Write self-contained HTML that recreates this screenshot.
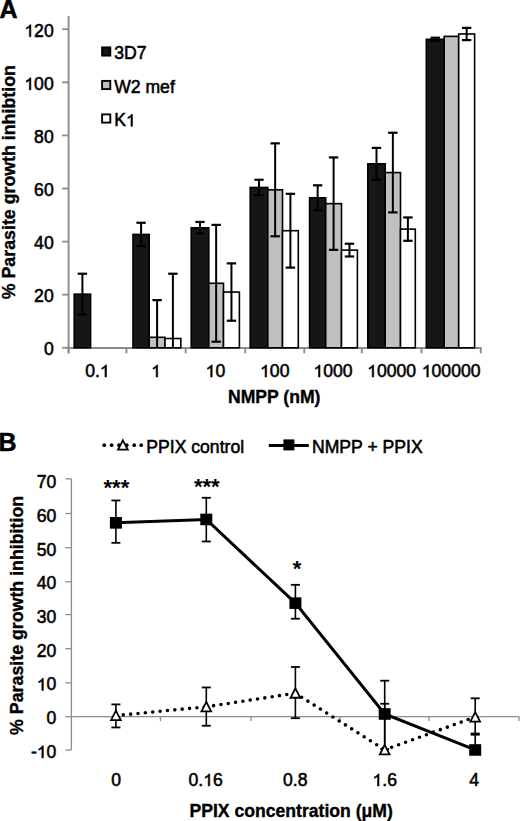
<!DOCTYPE html>
<html><head><meta charset="utf-8"><style>
html,body{margin:0;padding:0;background:#fff;}
svg{display:block;}
.t{font-family:"Liberation Sans", sans-serif;font-size:17.6px;fill:#000;stroke:#000;stroke-width:0.55px;}
.tb{font-family:"Liberation Sans", sans-serif;font-size:17.6px;font-weight:bold;fill:#000;stroke:#000;stroke-width:0.35px;}
.st{font-family:"Liberation Sans", sans-serif;font-size:22px;font-weight:bold;fill:#000;}
.tr{font-family:"Liberation Sans", sans-serif;font-size:17.8px;font-weight:bold;fill:#000;stroke:#000;stroke-width:0.35px;}
.pl{font-family:"Liberation Sans", sans-serif;font-size:25px;font-weight:bold;fill:#000;stroke:#000;stroke-width:0.5px;}
</style></head><body>
<svg width="520" height="821" viewBox="0 0 520 821">
<line x1="68.6" y1="16" x2="68.6" y2="353.3" stroke="#8c8c8c" stroke-width="1.9"/>
<line x1="67.64999999999999" y1="348.0" x2="481.75" y2="348.0" stroke="#8c8c8c" stroke-width="1.9"/>
<line x1="62.2" y1="347.80" x2="68.6" y2="347.80" stroke="#8c8c8c" stroke-width="1.8"/>
<text x="53.70" y="355.40" text-anchor="end" class="t">0</text>
<line x1="62.2" y1="294.70" x2="68.6" y2="294.70" stroke="#8c8c8c" stroke-width="1.8"/>
<text x="53.70" y="302.30" text-anchor="end" class="t">20</text>
<line x1="62.2" y1="241.60" x2="68.6" y2="241.60" stroke="#8c8c8c" stroke-width="1.8"/>
<text x="53.70" y="249.20" text-anchor="end" class="t">40</text>
<line x1="62.2" y1="188.50" x2="68.6" y2="188.50" stroke="#8c8c8c" stroke-width="1.8"/>
<text x="53.70" y="196.10" text-anchor="end" class="t">60</text>
<line x1="62.2" y1="135.40" x2="68.6" y2="135.40" stroke="#8c8c8c" stroke-width="1.8"/>
<text x="53.70" y="143.00" text-anchor="end" class="t">80</text>
<line x1="62.2" y1="82.30" x2="68.6" y2="82.30" stroke="#8c8c8c" stroke-width="1.8"/>
<text x="24.34" y="89.90" class="t">&#8199;00</text><path d="M30.89,89.90 L29.35,89.90 L29.35,80.42 Q28.79,80.94 27.90,81.44 Q27.02,81.94 26.25,82.21 L26.25,80.77 Q27.55,80.19 28.52,79.36 Q29.48,78.54 29.90,77.79 L30.89,77.79 Z" fill="#000" stroke="#000" stroke-width="0.55"/>
<line x1="62.2" y1="29.20" x2="68.6" y2="29.20" stroke="#8c8c8c" stroke-width="1.8"/>
<text x="24.34" y="36.80" class="t">&#8199;20</text><path d="M30.89,36.80 L29.35,36.80 L29.35,27.32 Q28.79,27.84 27.90,28.34 Q27.02,28.84 26.25,29.11 L26.25,27.67 Q27.55,27.09 28.52,26.26 Q29.48,25.44 29.90,24.69 L30.89,24.69 Z" fill="#000" stroke="#000" stroke-width="0.55"/>
<line x1="68.60" y1="348.0" x2="68.60" y2="353.3" stroke="#8c8c8c" stroke-width="1.9"/>
<line x1="126.40" y1="348.0" x2="126.40" y2="353.3" stroke="#8c8c8c" stroke-width="1.9"/>
<line x1="185.65" y1="348.0" x2="185.65" y2="353.3" stroke="#8c8c8c" stroke-width="1.9"/>
<line x1="245.20" y1="348.0" x2="245.20" y2="353.3" stroke="#8c8c8c" stroke-width="1.9"/>
<line x1="304.30" y1="348.0" x2="304.30" y2="353.3" stroke="#8c8c8c" stroke-width="1.9"/>
<line x1="361.80" y1="348.0" x2="361.80" y2="353.3" stroke="#8c8c8c" stroke-width="1.9"/>
<line x1="421.50" y1="348.0" x2="421.50" y2="353.3" stroke="#8c8c8c" stroke-width="1.9"/>
<line x1="480.80" y1="348.0" x2="480.80" y2="353.3" stroke="#8c8c8c" stroke-width="1.9"/>
<text x="85.27" y="377.00" class="t">0.&#8199;</text><path d="M106.50,377.00 L104.96,377.00 L104.96,367.52 Q104.40,368.04 103.51,368.54 Q102.63,369.04 101.86,369.31 L101.86,367.87 Q103.16,367.29 104.13,366.46 Q105.09,365.64 105.51,364.89 L106.50,364.89 Z" fill="#000" stroke="#000" stroke-width="0.55"/>
<text x="151.13" y="377.00" class="t">&#8199;</text><path d="M157.69,377.00 L156.14,377.00 L156.14,367.52 Q155.58,368.04 154.70,368.54 Q153.81,369.04 153.05,369.31 L153.05,367.87 Q154.34,367.29 155.31,366.46 Q156.28,365.64 156.70,364.89 L157.69,364.89 Z" fill="#000" stroke="#000" stroke-width="0.55"/>
<text x="205.64" y="377.00" class="t">&#8199;0</text><path d="M212.19,377.00 L210.65,377.00 L210.65,367.52 Q210.09,368.04 209.20,368.54 Q208.32,369.04 207.55,369.31 L207.55,367.87 Q208.85,367.29 209.82,366.46 Q210.78,365.64 211.21,364.89 L212.19,364.89 Z" fill="#000" stroke="#000" stroke-width="0.55"/>
<text x="260.07" y="377.00" class="t">&#8199;00</text><path d="M266.62,377.00 L265.08,377.00 L265.08,367.52 Q264.52,368.04 263.63,368.54 Q262.75,369.04 261.98,369.31 L261.98,367.87 Q263.28,367.29 264.25,366.46 Q265.22,365.64 265.64,364.89 L266.62,364.89 Z" fill="#000" stroke="#000" stroke-width="0.55"/>
<text x="313.47" y="377.00" class="t">&#8199;000</text><path d="M320.03,377.00 L318.48,377.00 L318.48,367.52 Q317.93,368.04 317.04,368.54 Q316.15,369.04 315.39,369.31 L315.39,367.87 Q316.69,367.29 317.65,366.46 Q318.62,365.64 319.04,364.89 L320.03,364.89 Z" fill="#000" stroke="#000" stroke-width="0.55"/>
<text x="367.18" y="377.00" class="t">&#8199;0000</text><path d="M373.74,377.00 L372.19,377.00 L372.19,367.52 Q371.63,368.04 370.75,368.54 Q369.86,369.04 369.10,369.31 L369.10,367.87 Q370.39,367.29 371.36,366.46 Q372.33,365.64 372.75,364.89 L373.74,364.89 Z" fill="#000" stroke="#000" stroke-width="0.55"/>
<text x="421.79" y="377.00" class="t">&#8199;00000</text><path d="M428.34,377.00 L426.80,377.00 L426.80,367.52 Q426.24,368.04 425.35,368.54 Q424.47,369.04 423.70,369.31 L423.70,367.87 Q425.00,367.29 425.97,366.46 Q426.93,365.64 427.35,364.89 L428.34,364.89 Z" fill="#000" stroke="#000" stroke-width="0.55"/>
<rect x="74.20" y="294.17" width="16.40" height="53.63" fill="#161616" stroke="#000" stroke-width="1.6"/>
<rect x="133.00" y="234.43" width="16.20" height="113.37" fill="#161616" stroke="#000" stroke-width="1.6"/>
<rect x="149.20" y="337.31" width="15.80" height="10.49" fill="#c0c0c0" stroke="#000" stroke-width="1.6"/>
<rect x="165.00" y="338.51" width="15.80" height="9.29" fill="#ffffff" stroke="#000" stroke-width="1.6"/>
<rect x="191.20" y="227.79" width="17.60" height="120.01" fill="#161616" stroke="#000" stroke-width="1.6"/>
<rect x="208.80" y="283.28" width="14.70" height="64.52" fill="#c0c0c0" stroke="#000" stroke-width="1.6"/>
<rect x="223.50" y="292.05" width="15.90" height="55.75" fill="#ffffff" stroke="#000" stroke-width="1.6"/>
<rect x="250.20" y="187.44" width="17.60" height="160.36" fill="#161616" stroke="#000" stroke-width="1.6"/>
<rect x="267.80" y="189.83" width="14.70" height="157.97" fill="#c0c0c0" stroke="#000" stroke-width="1.6"/>
<rect x="282.50" y="230.71" width="15.80" height="117.09" fill="#ffffff" stroke="#000" stroke-width="1.6"/>
<rect x="309.60" y="197.79" width="16.10" height="150.01" fill="#161616" stroke="#000" stroke-width="1.6"/>
<rect x="325.70" y="203.63" width="15.80" height="144.17" fill="#c0c0c0" stroke="#000" stroke-width="1.6"/>
<rect x="341.50" y="250.10" width="15.90" height="97.70" fill="#ffffff" stroke="#000" stroke-width="1.6"/>
<rect x="367.80" y="163.81" width="17.40" height="183.99" fill="#161616" stroke="#000" stroke-width="1.6"/>
<rect x="385.20" y="172.57" width="15.30" height="175.23" fill="#c0c0c0" stroke="#000" stroke-width="1.6"/>
<rect x="400.50" y="229.12" width="14.80" height="118.68" fill="#ffffff" stroke="#000" stroke-width="1.6"/>
<rect x="426.30" y="39.29" width="17.90" height="308.51" fill="#161616" stroke="#000" stroke-width="1.6"/>
<rect x="444.20" y="36.37" width="14.50" height="311.43" fill="#c0c0c0" stroke="#000" stroke-width="1.6"/>
<rect x="458.70" y="33.98" width="15.90" height="313.82" fill="#ffffff" stroke="#000" stroke-width="1.6"/>
<line x1="82.40" y1="273.73" x2="82.40" y2="314.61" stroke="#000" stroke-width="2"/>
<line x1="77.70" y1="273.73" x2="87.10" y2="273.73" stroke="#000" stroke-width="2.2"/>
<line x1="77.70" y1="314.61" x2="87.10" y2="314.61" stroke="#000" stroke-width="2.2"/>
<line x1="141.10" y1="222.75" x2="141.10" y2="246.11" stroke="#000" stroke-width="2"/>
<line x1="136.40" y1="222.75" x2="145.80" y2="222.75" stroke="#000" stroke-width="2.2"/>
<line x1="136.40" y1="246.11" x2="145.80" y2="246.11" stroke="#000" stroke-width="2.2"/>
<line x1="157.10" y1="300.14" x2="157.10" y2="347.80" stroke="#000" stroke-width="2"/>
<line x1="152.40" y1="300.14" x2="161.80" y2="300.14" stroke="#000" stroke-width="2.2"/>
<line x1="172.90" y1="273.73" x2="172.90" y2="347.80" stroke="#000" stroke-width="2"/>
<line x1="168.20" y1="273.73" x2="177.60" y2="273.73" stroke="#000" stroke-width="2.2"/>
<line x1="200.00" y1="221.95" x2="200.00" y2="233.63" stroke="#000" stroke-width="2"/>
<line x1="195.30" y1="221.95" x2="204.70" y2="221.95" stroke="#000" stroke-width="2.2"/>
<line x1="195.30" y1="233.63" x2="204.70" y2="233.63" stroke="#000" stroke-width="2.2"/>
<line x1="216.15" y1="224.87" x2="216.15" y2="341.69" stroke="#000" stroke-width="2"/>
<line x1="211.45" y1="224.87" x2="220.85" y2="224.87" stroke="#000" stroke-width="2.2"/>
<line x1="211.45" y1="341.69" x2="220.85" y2="341.69" stroke="#000" stroke-width="2.2"/>
<line x1="231.45" y1="263.37" x2="231.45" y2="320.72" stroke="#000" stroke-width="2"/>
<line x1="226.75" y1="263.37" x2="236.15" y2="263.37" stroke="#000" stroke-width="2.2"/>
<line x1="226.75" y1="320.72" x2="236.15" y2="320.72" stroke="#000" stroke-width="2.2"/>
<line x1="259.00" y1="179.74" x2="259.00" y2="195.14" stroke="#000" stroke-width="2"/>
<line x1="254.30" y1="179.74" x2="263.70" y2="179.74" stroke="#000" stroke-width="2.2"/>
<line x1="254.30" y1="195.14" x2="263.70" y2="195.14" stroke="#000" stroke-width="2.2"/>
<line x1="275.15" y1="143.36" x2="275.15" y2="236.29" stroke="#000" stroke-width="2"/>
<line x1="270.45" y1="143.36" x2="279.85" y2="143.36" stroke="#000" stroke-width="2.2"/>
<line x1="270.45" y1="236.29" x2="279.85" y2="236.29" stroke="#000" stroke-width="2.2"/>
<line x1="290.40" y1="193.81" x2="290.40" y2="267.62" stroke="#000" stroke-width="2"/>
<line x1="285.70" y1="193.81" x2="295.10" y2="193.81" stroke="#000" stroke-width="2.2"/>
<line x1="285.70" y1="267.62" x2="295.10" y2="267.62" stroke="#000" stroke-width="2.2"/>
<line x1="317.65" y1="185.31" x2="317.65" y2="210.27" stroke="#000" stroke-width="2"/>
<line x1="312.95" y1="185.31" x2="322.35" y2="185.31" stroke="#000" stroke-width="2.2"/>
<line x1="312.95" y1="210.27" x2="322.35" y2="210.27" stroke="#000" stroke-width="2.2"/>
<line x1="333.60" y1="157.44" x2="333.60" y2="249.83" stroke="#000" stroke-width="2"/>
<line x1="328.90" y1="157.44" x2="338.30" y2="157.44" stroke="#000" stroke-width="2.2"/>
<line x1="328.90" y1="249.83" x2="338.30" y2="249.83" stroke="#000" stroke-width="2.2"/>
<line x1="349.45" y1="243.72" x2="349.45" y2="256.47" stroke="#000" stroke-width="2"/>
<line x1="344.75" y1="243.72" x2="354.15" y2="243.72" stroke="#000" stroke-width="2.2"/>
<line x1="344.75" y1="256.47" x2="354.15" y2="256.47" stroke="#000" stroke-width="2.2"/>
<line x1="376.50" y1="147.88" x2="376.50" y2="179.74" stroke="#000" stroke-width="2"/>
<line x1="371.80" y1="147.88" x2="381.20" y2="147.88" stroke="#000" stroke-width="2.2"/>
<line x1="371.80" y1="179.74" x2="381.20" y2="179.74" stroke="#000" stroke-width="2.2"/>
<line x1="392.85" y1="132.75" x2="392.85" y2="212.40" stroke="#000" stroke-width="2"/>
<line x1="388.15" y1="132.75" x2="397.55" y2="132.75" stroke="#000" stroke-width="2.2"/>
<line x1="388.15" y1="212.40" x2="397.55" y2="212.40" stroke="#000" stroke-width="2.2"/>
<line x1="407.90" y1="217.44" x2="407.90" y2="240.80" stroke="#000" stroke-width="2"/>
<line x1="403.20" y1="217.44" x2="412.60" y2="217.44" stroke="#000" stroke-width="2.2"/>
<line x1="403.20" y1="240.80" x2="412.60" y2="240.80" stroke="#000" stroke-width="2.2"/>
<line x1="435.25" y1="37.70" x2="435.25" y2="40.88" stroke="#000" stroke-width="2"/>
<line x1="430.55" y1="37.70" x2="439.95" y2="37.70" stroke="#000" stroke-width="2.2"/>
<line x1="430.55" y1="40.88" x2="439.95" y2="40.88" stroke="#000" stroke-width="2.2"/>
<line x1="466.65" y1="27.87" x2="466.65" y2="40.09" stroke="#000" stroke-width="2"/>
<line x1="461.95" y1="27.87" x2="471.35" y2="27.87" stroke="#000" stroke-width="2.2"/>
<line x1="461.95" y1="40.09" x2="471.35" y2="40.09" stroke="#000" stroke-width="2.2"/>
<rect x="102.1" y="47.40" width="8.2" height="8.2" fill="#161616" stroke="#000" stroke-width="1.9"/>
<text x="114.20" y="59.30" text-anchor="start" class="t">3D7</text>
<rect x="102.1" y="80.90" width="8.2" height="8.2" fill="#c0c0c0" stroke="#000" stroke-width="1.9"/>
<text x="114.20" y="92.80" text-anchor="start" class="t">W2 mef</text>
<rect x="102.1" y="114.40" width="8.2" height="8.2" fill="#ffffff" stroke="#000" stroke-width="1.9"/>
<text x="114.20" y="126.30" class="t">K&#8199;</text><path d="M132.50,126.30 L130.95,126.30 L130.95,116.82 Q130.39,117.34 129.51,117.84 Q128.62,118.34 127.86,118.61 L127.86,117.17 Q129.15,116.59 130.12,115.76 Q131.09,114.94 131.51,114.19 L132.50,114.19 Z" fill="#000" stroke="#000" stroke-width="0.55"/>
<text x="274.2" y="402.8" text-anchor="middle" class="tb">NMPP (nM)</text>
<text transform="translate(15.4,182.2) rotate(-90)" text-anchor="middle" class="tr">% Parasite growth inhibtion</text>
<text x="-0.5" y="17.5" class="pl">A</text>
<line x1="71.4" y1="478.8" x2="71.4" y2="750.1" stroke="#8c8c8c" stroke-width="1.3"/>
<line x1="71.4" y1="716.6" x2="519.0" y2="716.6" stroke="#8c8c8c" stroke-width="1.3"/>
<line x1="65.4" y1="750.10" x2="71.4" y2="750.10" stroke="#8c8c8c" stroke-width="1.3"/>
<text x="30.96" y="757.94" class="t">-&#8199;0</text><path d="M43.38,757.94 L41.83,757.94 L41.83,748.46 Q41.27,748.98 40.39,749.48 Q39.50,749.98 38.74,750.25 L38.74,748.81 Q40.04,748.23 41.00,747.40 Q41.97,746.58 42.39,745.83 L43.38,745.83 Z" fill="#000" stroke="#000" stroke-width="0.55"/>
<line x1="65.4" y1="716.70" x2="71.4" y2="716.70" stroke="#8c8c8c" stroke-width="1.3"/>
<text x="56.40" y="724.20" text-anchor="end" class="t">0</text>
<line x1="65.4" y1="682.80" x2="71.4" y2="682.80" stroke="#8c8c8c" stroke-width="1.3"/>
<text x="36.82" y="690.46" class="t">&#8199;0</text><path d="M43.38,690.46 L41.83,690.46 L41.83,680.98 Q41.27,681.50 40.39,682.00 Q39.50,682.50 38.74,682.77 L38.74,681.33 Q40.04,680.75 41.00,679.92 Q41.97,679.10 42.39,678.35 L43.38,678.35 Z" fill="#000" stroke="#000" stroke-width="0.55"/>
<line x1="65.4" y1="648.70" x2="71.4" y2="648.70" stroke="#8c8c8c" stroke-width="1.3"/>
<text x="56.40" y="656.72" text-anchor="end" class="t">20</text>
<line x1="65.4" y1="614.60" x2="71.4" y2="614.60" stroke="#8c8c8c" stroke-width="1.3"/>
<text x="56.40" y="622.98" text-anchor="end" class="t">30</text>
<line x1="65.4" y1="581.80" x2="71.4" y2="581.80" stroke="#8c8c8c" stroke-width="1.3"/>
<text x="56.40" y="589.24" text-anchor="end" class="t">40</text>
<line x1="65.4" y1="547.70" x2="71.4" y2="547.70" stroke="#8c8c8c" stroke-width="1.3"/>
<text x="56.40" y="555.50" text-anchor="end" class="t">50</text>
<line x1="65.4" y1="513.50" x2="71.4" y2="513.50" stroke="#8c8c8c" stroke-width="1.3"/>
<text x="56.40" y="521.76" text-anchor="end" class="t">60</text>
<line x1="65.4" y1="478.80" x2="71.4" y2="478.80" stroke="#8c8c8c" stroke-width="1.3"/>
<text x="56.40" y="488.02" text-anchor="end" class="t">70</text>
<line x1="160.40" y1="716.6" x2="160.40" y2="721.1" stroke="#8c8c8c" stroke-width="1.3"/>
<line x1="251.00" y1="716.6" x2="251.00" y2="721.1" stroke="#8c8c8c" stroke-width="1.3"/>
<line x1="339.90" y1="716.6" x2="339.90" y2="721.1" stroke="#8c8c8c" stroke-width="1.3"/>
<line x1="429.00" y1="716.6" x2="429.00" y2="721.1" stroke="#8c8c8c" stroke-width="1.3"/>
<line x1="519.00" y1="716.6" x2="519.00" y2="721.1" stroke="#8c8c8c" stroke-width="1.3"/>
<text x="116.16" y="786.00" text-anchor="middle" class="t">0</text>
<text x="188.55" y="786.00" class="t">0.&#8199;6</text><path d="M209.79,786.00 L208.24,786.00 L208.24,776.52 Q207.68,777.04 206.80,777.54 Q205.91,778.04 205.15,778.31 L205.15,776.87 Q206.44,776.29 207.41,775.46 Q208.38,774.64 208.80,773.89 L209.79,773.89 Z" fill="#000" stroke="#000" stroke-width="0.55"/>
<text x="295.20" y="786.00" text-anchor="middle" class="t">0.8</text>
<text x="372.49" y="786.00" class="t">&#8199;.6</text><path d="M379.04,786.00 L377.50,786.00 L377.50,776.52 Q376.94,777.04 376.05,777.54 Q375.17,778.04 374.40,778.31 L374.40,776.87 Q375.70,776.29 376.67,775.46 Q377.63,774.64 378.06,773.89 L379.04,773.89 Z" fill="#000" stroke="#000" stroke-width="0.55"/>
<text x="474.24" y="786.00" text-anchor="middle" class="t">4</text>
<line x1="115.90" y1="704.40" x2="115.90" y2="727.44" stroke="#000" stroke-width="1.6"/>
<line x1="111.40" y1="704.40" x2="120.40" y2="704.40" stroke="#000" stroke-width="1.8"/>
<line x1="111.40" y1="727.44" x2="120.40" y2="727.44" stroke="#000" stroke-width="1.8"/>
<line x1="206.30" y1="687.47" x2="206.30" y2="725.75" stroke="#000" stroke-width="1.6"/>
<line x1="201.80" y1="687.47" x2="210.80" y2="687.47" stroke="#000" stroke-width="1.8"/>
<line x1="201.80" y1="725.75" x2="210.80" y2="725.75" stroke="#000" stroke-width="1.8"/>
<line x1="295.40" y1="666.97" x2="295.40" y2="718.19" stroke="#000" stroke-width="1.6"/>
<line x1="290.90" y1="666.97" x2="299.90" y2="666.97" stroke="#000" stroke-width="1.8"/>
<line x1="290.90" y1="718.19" x2="299.90" y2="718.19" stroke="#000" stroke-width="1.8"/>
<line x1="384.70" y1="703.73" x2="384.70" y2="750.48" stroke="#000" stroke-width="1.6"/>
<line x1="380.20" y1="703.73" x2="389.20" y2="703.73" stroke="#000" stroke-width="1.8"/>
<line x1="475.20" y1="698.31" x2="475.20" y2="734.72" stroke="#000" stroke-width="1.6"/>
<line x1="470.70" y1="698.31" x2="479.70" y2="698.31" stroke="#000" stroke-width="1.8"/>
<line x1="470.70" y1="734.72" x2="479.70" y2="734.72" stroke="#000" stroke-width="1.8"/>
<line x1="115.90" y1="500.48" x2="115.90" y2="542.82" stroke="#000" stroke-width="1.6"/>
<line x1="111.40" y1="500.48" x2="120.40" y2="500.48" stroke="#000" stroke-width="1.8"/>
<line x1="111.40" y1="542.82" x2="120.40" y2="542.82" stroke="#000" stroke-width="1.8"/>
<line x1="206.30" y1="497.77" x2="206.30" y2="541.47" stroke="#000" stroke-width="1.6"/>
<line x1="201.80" y1="497.77" x2="210.80" y2="497.77" stroke="#000" stroke-width="1.8"/>
<line x1="201.80" y1="541.47" x2="210.80" y2="541.47" stroke="#000" stroke-width="1.8"/>
<line x1="295.40" y1="584.83" x2="295.40" y2="618.70" stroke="#000" stroke-width="1.6"/>
<line x1="290.90" y1="584.83" x2="299.90" y2="584.83" stroke="#000" stroke-width="1.8"/>
<line x1="290.90" y1="618.70" x2="299.90" y2="618.70" stroke="#000" stroke-width="1.8"/>
<line x1="384.70" y1="680.69" x2="384.70" y2="749.12" stroke="#000" stroke-width="1.6"/>
<line x1="380.20" y1="680.69" x2="389.20" y2="680.69" stroke="#000" stroke-width="1.8"/>
<line x1="380.20" y1="749.12" x2="389.20" y2="749.12" stroke="#000" stroke-width="1.8"/>
<line x1="475.20" y1="733.54" x2="475.20" y2="750.48" stroke="#000" stroke-width="1.6"/>
<line x1="470.70" y1="733.54" x2="479.70" y2="733.54" stroke="#000" stroke-width="1.8"/>
<line x1="115.90" y1="715.58" x2="206.30" y2="706.78" stroke="#000" stroke-width="3.6" stroke-dasharray="0 7.4" stroke-linecap="round"/>
<line x1="206.30" y1="706.78" x2="295.40" y2="693.23" stroke="#000" stroke-width="3.6" stroke-dasharray="0 7.4" stroke-linecap="round"/>
<line x1="295.40" y1="693.23" x2="384.70" y2="749.80" stroke="#000" stroke-width="3.6" stroke-dasharray="0 7.4" stroke-linecap="round"/>
<line x1="384.70" y1="749.80" x2="475.20" y2="717.04" stroke="#000" stroke-width="3.6" stroke-dasharray="0 7.4" stroke-linecap="round"/>
<polyline points="115.90,522.84 206.30,519.45 295.40,603.12 384.70,713.99 475.20,749.97" fill="none" stroke="#000" stroke-width="3"/>
<polygon points="115.90,710.68 120.75,720.08 111.05,720.08" fill="#fff" stroke="#000" stroke-width="1.8" stroke-linejoin="miter"/>
<polygon points="206.30,701.88 211.15,711.28 201.45,711.28" fill="#fff" stroke="#000" stroke-width="1.8" stroke-linejoin="miter"/>
<polygon points="295.40,688.33 300.25,697.73 290.55,697.73" fill="#fff" stroke="#000" stroke-width="1.8" stroke-linejoin="miter"/>
<polygon points="384.70,744.90 389.55,754.30 379.85,754.30" fill="#fff" stroke="#000" stroke-width="1.8" stroke-linejoin="miter"/>
<polygon points="475.20,712.14 480.05,721.54 470.35,721.54" fill="#fff" stroke="#000" stroke-width="1.8" stroke-linejoin="miter"/>
<rect x="109.90" y="517.04" width="12" height="11.6" fill="#000"/>
<rect x="200.30" y="513.65" width="12" height="11.6" fill="#000"/>
<rect x="289.40" y="597.32" width="12" height="11.6" fill="#000"/>
<rect x="378.70" y="708.19" width="12" height="11.6" fill="#000"/>
<rect x="469.20" y="744.17" width="12" height="11.6" fill="#000"/>
<text x="116.4" y="495.4" text-anchor="middle" class="st">***</text>
<text x="206.8" y="493.6" text-anchor="middle" class="st">***</text>
<text x="297" y="575.5" text-anchor="middle" class="st">*</text>
<circle cx="104.2" cy="445.2" r="1.85" fill="#000"/>
<circle cx="111.6" cy="445.2" r="1.85" fill="#000"/>
<circle cx="119" cy="445.2" r="1.85" fill="#000"/>
<circle cx="126.8" cy="445.2" r="1.85" fill="#000"/>
<circle cx="134.2" cy="445.2" r="1.85" fill="#000"/>
<circle cx="141.2" cy="445.2" r="1.85" fill="#000"/>
<polygon points="122.90,440.30 127.75,449.70 118.05,449.70" fill="#fff" stroke="#000" stroke-width="1.8" stroke-linejoin="miter"/>
<text x="146.3" y="452.5" class="t">PPIX control</text>
<line x1="268.8" y1="445.5" x2="308.8" y2="445.5" stroke="#000" stroke-width="3"/>
<rect x="283.4" y="439.4" width="11" height="11" fill="#000"/>
<text x="312" y="452.5" class="t">NMPP + PPIX</text>
<text x="291.2" y="816.5" text-anchor="middle" class="tb">PPIX concentration (&#956;M)</text>
<text transform="translate(23.2,615.4) rotate(-90)" text-anchor="middle" class="tr">% Parasite growth inhibition</text>
<text x="-1.5" y="450.6" class="pl">B</text>
</svg>
</body></html>
